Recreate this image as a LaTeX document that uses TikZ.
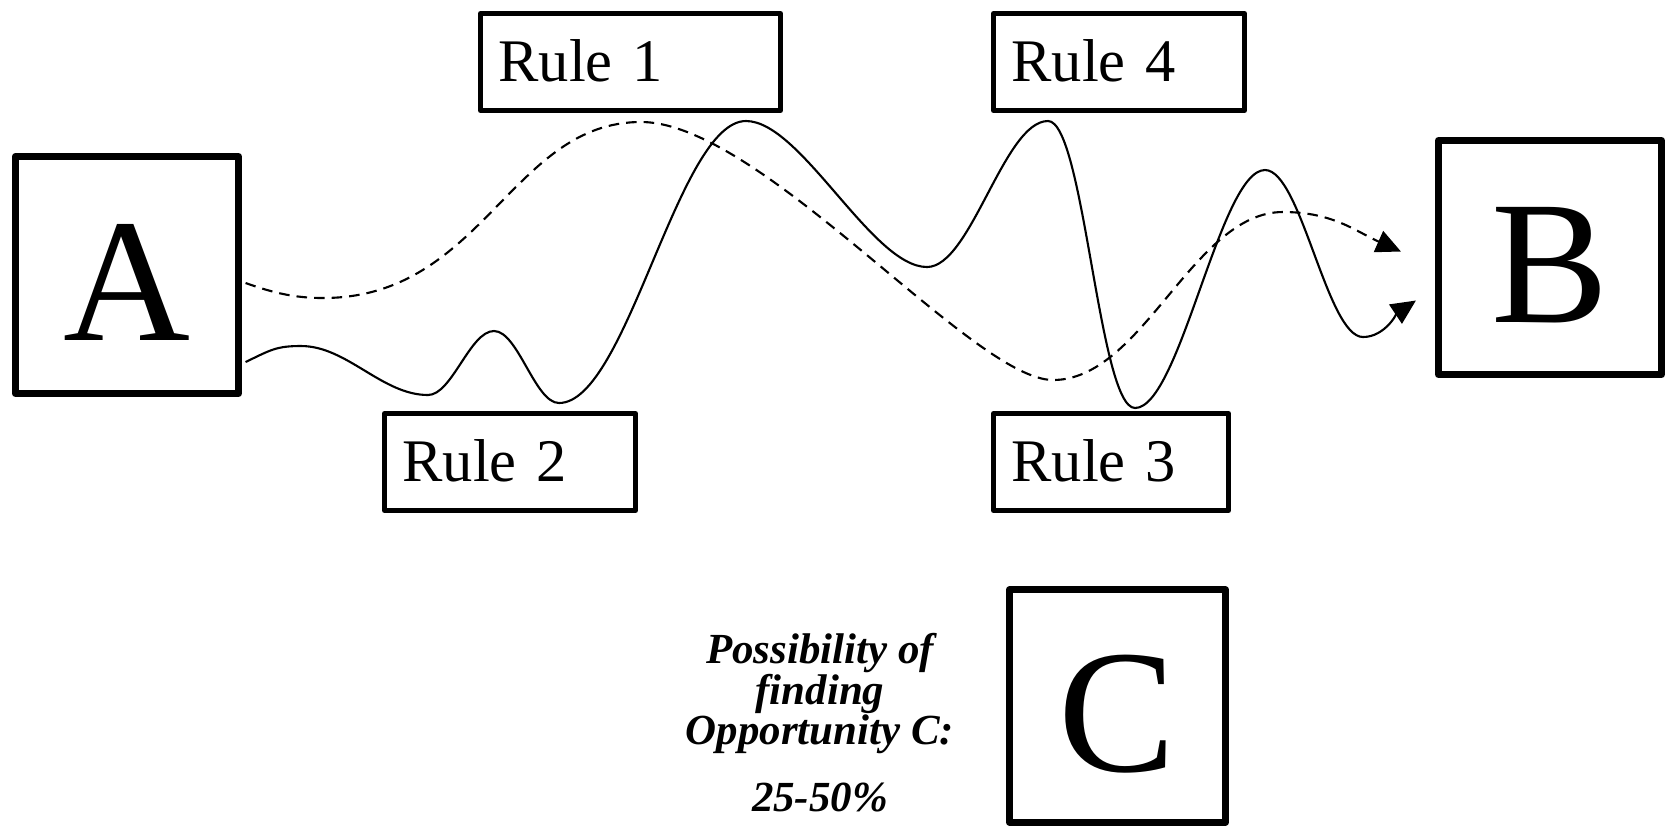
\documentclass[tikz,border=0pt]{standalone}
\usepackage{fontspec}
\setmainfont{Liberation Serif}
\usetikzlibrary{arrows.meta,calc,positioning}

\begin{document}
\begin{tikzpicture}[x=0.01cm,y=-0.01cm,
  letterbox/.style={draw,line width=2pt,line join=round,inner sep=0pt,minimum width=2.23cm,
    font=\fontsize{50}{50}\selectfont,text height=37pt,text depth=0pt},
  rulebox/.style={draw,line width=1.4pt,line join=round,inner xsep=0.18cm,inner ysep=0pt,
    minimum height=0.97cm,align=left,font=\fontsize{17.2}{18}\selectfont,text depth=1pt},
  dashline/.style={line width=0.6pt,dash pattern=on 3pt off 2pt,-{Triangle[length=7pt,width=6.5pt]}},
  waveline/.style={line width=0.6pt,-{Triangle[length=7pt,width=6.5pt]}}]
  \useasboundingbox (0,0) rectangle (1669,826);
  % the three letter boxes
  \node[letterbox,minimum height=2.37cm] (A) at (127,275) {A};
  \node[letterbox,minimum height=2.34cm] (B) at (1550,257.5) {B};
  \node[letterbox,minimum width=2.16cm,minimum height=2.32cm] (C) at (1117.5,706) {C};
  % rules
  \node[rulebox,text width=2.64cm] (r1) at (630.5,62) {Rule 1};
  \node[rulebox,text width=2.15cm] (r4) at (1119,62) {Rule 4};
  \node[rulebox,text width=2.15cm] (r2) at (510,462) {Rule 2};
  \node[rulebox,text width=1.99cm] (r3) at (1111,462) {Rule 3};
  \node[font=\fontsize{12.2}{11.4}\selectfont\bfseries\itshape,align=center,anchor=north,inner sep=0pt]
    (odds) at (820,633) {Possibility of\\finding\\Opportunity C:\\[7.7pt]25-50\%};
  % paths from A towards B
  \coordinate (tipD) at ([shift={(-34,-6)}]B.west);
  \coordinate (tipS) at ([shift={(-19,43)}]B.west);
  \draw[dashline] ([shift={(3.5,8)}]A.east) .. controls +(28,10) and +(-28,0) .. (323,298)
    .. controls +(160,0) and +(-130,0) .. (641,122)
    .. controls +(120,0) and +(-80,0) .. (1053,380)
    .. controls +(90,0) and +(-90,0) .. (1283,212)
    .. controls +(50,0) and +(-45,-20) .. (tipD);
  \draw[waveline] ([shift={(3.5,87)}]A.east) .. controls +(25,-12) and +(-25,0) .. (301,346)
    .. controls +(46,0) and +(-46,0) .. (428,395)
    .. controls +(24,0) and +(-24,0) .. (494,331)
    .. controls +(24,0) and +(-24,0) .. (559,403)
    .. controls +(68,0) and +(-68,0) .. (746,121)
    .. controls +(55,0) and +(-55,0) .. (927,267)
    .. controls +(44,0) and +(-44,0) .. (1048,121)
    .. controls +(36,0) and +(-36,0) .. (1135,408)
    .. controls +(45,0) and +(-45,0) .. (1265,170)
    .. controls +(36,0) and +(-36,0) .. (1363,337)
    .. controls +(22,0) and +(-18,12) .. (tipS);
\end{tikzpicture}
\end{document}
